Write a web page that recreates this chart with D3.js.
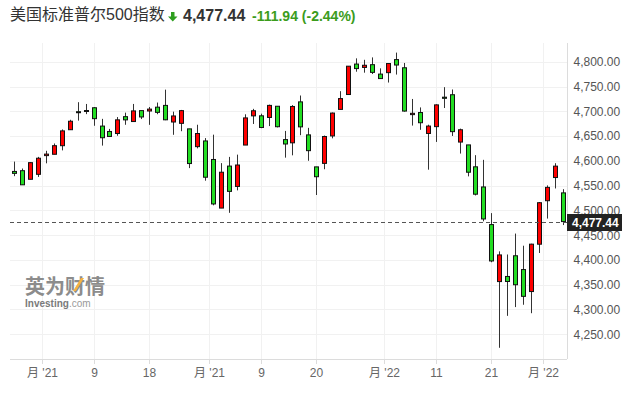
<!DOCTYPE html>
<html>
<head>
<meta charset="utf-8">
<script src="https://cdn.jsdelivr.net/npm/d3@7"></script>
<style>
  body { margin: 0; background: #fff; }
  svg { display: block; font-family: "Liberation Sans", Arial, "Noto Sans CJK SC", sans-serif; }
</style>
</head>
<body>
<div id="chart"></div>
<script>
// S&P 500 daily candles, 2021-10-26 .. 2022-02-03
var dates = ["2021-10-26","2021-10-27","2021-10-28","2021-10-29","2021-11-01","2021-11-02","2021-11-03","2021-11-04","2021-11-05","2021-11-08",
  "2021-11-09","2021-11-10","2021-11-11","2021-11-12","2021-11-15","2021-11-16","2021-11-17","2021-11-18","2021-11-19","2021-11-22",
  "2021-11-23","2021-11-24","2021-11-26","2021-11-29","2021-11-30","2021-12-01","2021-12-02","2021-12-03","2021-12-06","2021-12-07",
  "2021-12-08","2021-12-09","2021-12-10","2021-12-13","2021-12-14","2021-12-15","2021-12-16","2021-12-17","2021-12-20","2021-12-21",
  "2021-12-22","2021-12-23","2021-12-27","2021-12-28","2021-12-29","2021-12-30","2021-12-31","2022-01-03","2022-01-04","2022-01-05",
  "2022-01-06","2022-01-07","2022-01-10","2022-01-11","2022-01-12","2022-01-13","2022-01-14","2022-01-18","2022-01-19","2022-01-20",
  "2022-01-21","2022-01-24","2022-01-25","2022-01-26","2022-01-27","2022-01-28","2022-01-31","2022-02-01","2022-02-02","2022-02-03"];

var open = [4578.69,4580.22,4562.84,4572.87,4610.62,4613.34,4630.65,4662.93,4699.26,4701.48,
  4707.25,4670.26,4659.39,4655.24,4689.30,4679.42,4701.50,4700.72,4708.44,4712.00,
  4678.48,4675.78,4664.63,4628.75,4640.25,4602.82,4504.73,4589.49,4548.37,4631.97,
  4690.86,4691.00,4687.64,4710.30,4642.99,4636.46,4719.13,4652.50,4587.90,4594.96,
  4650.36,4703.96,4733.99,4795.49,4788.64,4794.23,4775.21,4778.14,4804.51,4787.99,
  4693.39,4697.66,4655.34,4669.14,4728.59,4733.56,4637.99,4632.24,4588.03,4547.35,
  4471.38,4356.32,4366.64,4408.43,4380.58,4336.19,4431.79,4519.57,4566.39,4535.41];

var high = [4598.53,4584.57,4597.55,4608.08,4620.34,4635.15,4663.46,4683.00,4718.50,4714.92,
  4708.53,4684.85,4664.55,4688.47,4697.42,4714.95,4701.50,4708.80,4717.75,4743.83,
  4699.39,4702.87,4664.63,4672.95,4646.02,4652.94,4595.46,4608.03,4612.60,4694.04,
  4705.06,4695.26,4713.57,4710.30,4660.47,4712.60,4731.99,4666.70,4587.90,4651.14,
  4697.67,4740.74,4791.49,4807.02,4804.06,4808.93,4786.83,4796.64,4818.62,4797.70,
  4725.01,4707.95,4673.02,4714.13,4748.83,4744.13,4665.13,4632.24,4611.55,4602.11,
  4494.52,4417.35,4411.01,4453.23,4428.74,4432.72,4516.89,4550.49,4595.31,4542.88];

var low = [4569.17,4551.66,4562.84,4567.59,4595.06,4613.34,4621.19,4662.59,4681.32,4694.39,
  4670.87,4630.86,4648.31,4650.77,4672.86,4679.42,4684.41,4672.78,4694.22,4682.17,
  4652.66,4659.89,4585.43,4625.26,4560.00,4510.27,4504.73,4495.12,4540.51,4631.97,
  4674.52,4665.98,4670.24,4667.60,4606.52,4611.22,4651.89,4600.22,4531.10,4583.16,
  4645.53,4703.96,4733.99,4780.04,4778.08,4775.33,4765.75,4758.17,4774.27,4699.44,
  4671.26,4662.74,4582.24,4638.27,4706.71,4650.29,4614.75,4568.70,4530.20,4477.95,
  4395.34,4222.62,4287.11,4304.80,4309.50,4292.46,4414.02,4483.53,4544.32,4470.39];

var close = [4574.79,4551.68,4596.42,4605.38,4613.67,4630.65,4660.57,4680.06,4697.53,4701.70,
  4685.25,4646.71,4649.27,4682.85,4682.80,4700.90,4688.67,4704.54,4697.96,4682.94,
  4690.70,4701.46,4594.62,4655.27,4567.00,4513.04,4577.10,4538.43,4591.67,4686.75,
  4701.21,4667.45,4712.02,4668.97,4634.09,4709.85,4668.67,4620.64,4568.02,4649.23,
  4696.56,4725.79,4791.19,4786.35,4793.06,4778.73,4766.18,4796.56,4793.54,4700.58,
  4696.05,4677.03,4670.29,4713.07,4726.35,4659.03,4662.85,4577.11,4532.76,4482.73,
  4397.94,4410.13,4356.45,4349.93,4326.51,4431.85,4515.55,4546.54,4589.38,4477.44];

// x axis ticks (month starts sit between candles)
var tickDates  = ["2021-11-01","2021-11-09","2021-11-18","2021-12-01","2021-12-09","2021-12-20","2022-01-03","2022-01-11","2022-01-21","2022-02-01"];
var tickLabels = ["月 '21","9","18","月 '21","9","20","月 '22","11","21","月 '22"];
var monthTick  = [true,false,false,true,false,false,true,false,false,true];

var priceTicks = d3.range(4250, 4801, 50);
var lastPrice = 4477.44;

var width = 638, height = 396;
var margin = {top: 43, right: 71, bottom: 37, left: 10};
var plotRight = width - margin.right, plotBottom = height - margin.bottom;

var upColor = "#ff0000", downColor = "#22dd22";

var svg = d3.select("#chart").append("svg")
  .attr("width", width)
  .attr("height", height);

var x = d3.scaleBand()
  .domain(dates)
  .range([margin.left, plotRight]);

var y = d3.scaleLinear()
  .domain([4200, 4838])
  .range([plotBottom, margin.top]);

function tickX(d, i) {
  return monthTick[i] ? x(d) : x(d) + x.bandwidth() / 2;
}

// grid
svg.append("g").selectAll("line")
  .data(priceTicks)
  .enter().append("line")
  .attr("x1", margin.left).attr("x2", plotRight)
  .attr("y1", function(d) { return Math.round(y(d)) + 0.5; })
  .attr("y2", function(d) { return Math.round(y(d)) + 0.5; })
  .attr("stroke", "#f1f1f1");

svg.append("g").selectAll("line")
  .data(tickDates)
  .enter().append("line")
  .attr("x1", function(d, i) { return Math.round(tickX(d, i)) + 0.5; })
  .attr("x2", function(d, i) { return Math.round(tickX(d, i)) + 0.5; })
  .attr("y1", margin.top).attr("y2", plotBottom)
  .attr("stroke", "#f1f1f1");

// watermark
var wm = svg.append("g").attr("transform", "translate(25,294)");
wm.append("text")
  .attr("font-size", 20).attr("font-weight", "bold")
  .attr("fill", "#8c8c8c")
  .attr("font-family", "'Noto Sans CJK SC', sans-serif")
  .text("英为财情");
wm.append("path")
  .attr("d", "M48,-3 L56,-16 L59,-16 L51,-3 Z")
  .attr("fill", "#f5b342");
var wm2 = wm.append("text").attr("y", 13).attr("font-size", 10);
wm2.append("tspan").attr("font-weight", "bold").attr("fill", "#7a7a7a").text("Investing");
wm2.append("tspan").attr("fill", "#9a9a9a").text(".com");

// axes
var xAxis = svg.append("g")
  .attr("transform", "translate(0," + plotBottom + ")");
xAxis.append("line")
  .attr("x1", margin.left).attr("x2", plotRight)
  .attr("y1", 0.5).attr("y2", 0.5)
  .attr("stroke", "#dcdcdc");
var xt = xAxis.selectAll(".tick")
  .data(tickDates)
  .enter().append("g")
  .attr("class", "tick")
  .attr("transform", function(d, i) { return "translate(" + (Math.round(tickX(d, i)) + 0.5) + ",0)"; });
xt.append("line").attr("y1", 0).attr("y2", 5).attr("stroke", "#dcdcdc");
xt.append("text")
  .attr("y", 18)
  .attr("text-anchor", "middle")
  .attr("font-size", 12)
  .attr("fill", "#666")
  .text(function(d, i) { return tickLabels[i]; });

var yAxis = svg.append("g")
  .attr("transform", "translate(" + (plotRight + 0.5) + ",0)")
  .call(d3.axisRight(y).tickValues(priceTicks).tickSize(0).tickPadding(6).tickFormat(d3.format(",.2f")));
yAxis.select(".domain").attr("stroke", "#dcdcdc").attr("d", "M0," + margin.top + "V" + plotBottom);
yAxis.selectAll("text").attr("font-size", 12).attr("fill", "#555")
  .attr("font-family", "'Liberation Sans', Arial, sans-serif");

// candles
var candles = svg.append("g").selectAll("g")
  .data(dates)
  .enter().append("g")
  .attr("transform", function(d) { return "translate(" + Math.round(x(d) + x.bandwidth() / 2) + ",0)"; });

candles.append("line")
  .attr("x1", 0.5).attr("x2", 0.5)
  .attr("y1", function(d, i) { return y(high[i]); })
  .attr("y2", function(d, i) { return y(low[i]); })
  .attr("stroke", "#333");

candles.append("rect")
  .attr("x", -1.5)
  .attr("width", 4)
  .attr("y", function(d, i) { return y(Math.max(open[i], close[i])); })
  .attr("height", function(d, i) { return Math.max(1, Math.abs(y(open[i]) - y(close[i]))); })
  .attr("fill", function(d, i) { return close[i] >= open[i] ? upColor : downColor; })
  .attr("stroke", "#111");

// last price line + label
var ly = Math.round(y(lastPrice)) + 0.5;
svg.append("line")
  .attr("x1", margin.left).attr("x2", plotRight)
  .attr("y1", ly).attr("y2", ly)
  .attr("stroke", "#555")
  .attr("stroke-dasharray", "4,3");
svg.append("rect")
  .attr("x", plotRight).attr("y", ly - 8.5)
  .attr("width", 55).attr("height", 17)
  .attr("fill", "#222");
svg.append("text")
  .attr("x", plotRight + 5).attr("y", ly + 4.5)
  .attr("font-size", 12).attr("font-weight", "bold")
  .attr("fill", "#fff")
  .text(d3.format(",.2f")(lastPrice));

// header
svg.append("text")
  .attr("x", 10).attr("y", 20)
  .attr("font-size", 16)
  .attr("fill", "#333")
  .text("美国标准普尔500指数");
svg.append("path")
  .attr("d", "M171,12 h3.5 v4.5 h3 l-4.75,5 l-4.75,-5 h3 Z")
  .attr("fill", "#2e9e1f");
svg.append("text")
  .attr("x", 183).attr("y", 21)
  .attr("font-size", 16).attr("font-weight", "bold")
  .attr("fill", "#333")
  .text("4,477.44");
svg.append("text")
  .attr("x", 252).attr("y", 21)
  .attr("font-size", 14).attr("font-weight", "bold")
  .attr("fill", "#3b9c1c")
  .text("-111.94 (-2.44%)");
</script>
</body>
</html>
